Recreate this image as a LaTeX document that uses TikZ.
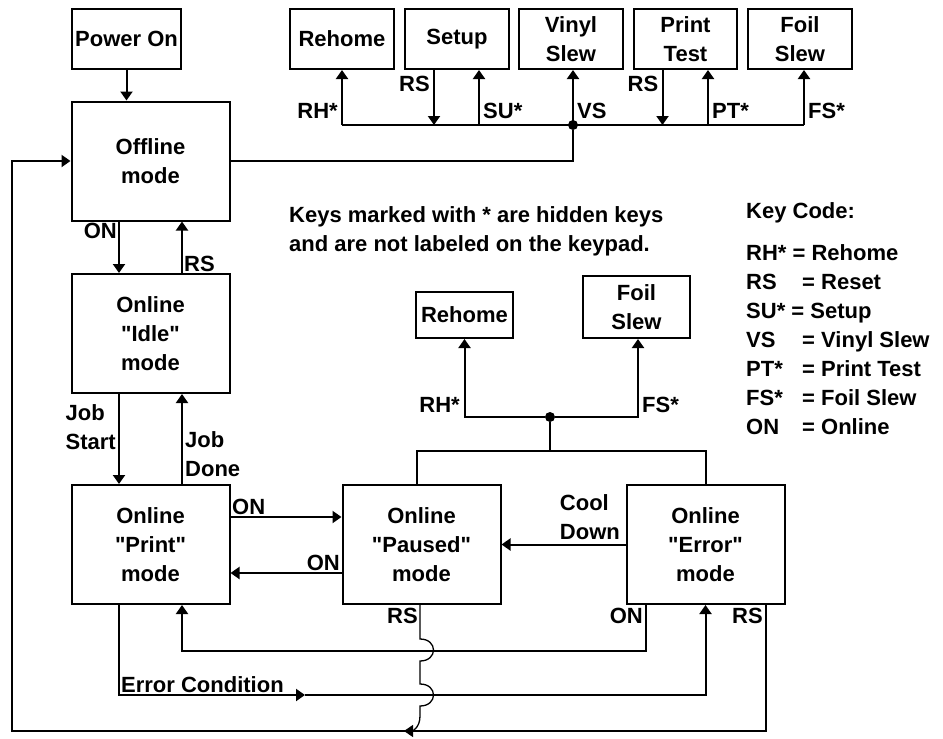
\documentclass[tikz,border=0pt]{standalone}
\usepackage{fontspec}
\setmainfont{Liberation Sans}[Ligatures=TeXOff]
\usetikzlibrary{arrows.meta,calc}
\tikzset{>={Triangle[length=9pt,width=12pt]},mode/.style={draw,line width=2pt,minimum width=158pt,minimum height=119pt,align=center,inner sep=0pt},keybox/.style={draw,line width=2pt,minimum height=60pt,align=center,inner sep=0pt},arr/.style={->,line width=2pt},wire/.style={line width=2pt},lab/.style={inner sep=1pt,align=left},dot/.style={circle,fill,inner sep=0pt,minimum size=10pt}}
\newcommand{\kc}[1]{\makebox[56pt][l]{#1}}

\begin{document}
\begin{tikzpicture}[x=1pt,y=-1pt,every node/.style={font=\fontsize{22}{29}\selectfont\bfseries}]
\useasboundingbox (0,0) rectangle (943,739);
\node[keybox,minimum width=109pt] (pon) at (126.5,39) {Power On};
\node[mode] (off) at (150.5,161) {Offline\\mode};
\node[mode] (idle) at (150.5,333.5) {Online\\"Idle"\\mode};
\node[mode] (prt) at (150.5,544.5) {Online\\"Print"\\mode};
\node[mode] (pau) at (421.5,544.5) {Online\\"Paused"\\mode};
\node[mode] (err) at (705.5,544.5) {Online\\"Error"\\mode};
\node[keybox,minimum width=104pt] (krh) at (342,39) {Rehome};
\node[keybox,minimum width=104pt] (ksu) at (457,39) {Setup};
\node[keybox,minimum width=104pt] (kvs) at (571,39) {Vinyl\\Slew};
\node[keybox,minimum width=103pt] (kpt) at (685.5,39) {Print\\Test};
\node[keybox,minimum width=104pt] (kfs) at (800,39) {Foil\\Slew};
\node[keybox,minimum width=97pt,minimum height=46pt] (mrh) at (464.5,315) {Rehome};
\node[keybox,minimum width=107pt,minimum height=62pt] (mfs) at (636.5,307) {Foil\\Slew};
\node[lab,anchor=north west] (note) at (288,205) {Keys marked with * are hidden keys\\and are not labeled on the keypad.};
\node[lab,anchor=north west] (kcode) at (745,201) {Key Code:\\[13pt]RH* = Rehome\\\kc{RS}= Reset\\SU* = Setup\\\kc{VS}= Vinyl Slew\\\kc{PT*}= Print Test\\\kc{FS*}= Foil Slew\\\kc{ON}= Online};

\foreach \k/\dx/\txt/\side/\gx in {krh/0/RH*/east/-3,ksu/22/SU*/west/3,kvs/2/VS/west/3,kpt/22.5/PT*/west/3,kfs/4/FS*/west/3}{
\draw[arr] ([xshift=\dx pt]\k.south) ++(0,55) coordinate (b\k) -- ([xshift=\dx pt]\k.south);
\node[lab,anchor=\side] (l\k) at ([xshift=\gx pt,yshift=14pt]b\k) {\txt};}
\foreach \k in {ksu,kpt}{
\draw[arr] ([xshift=-23pt]\k.south) -- ++(0,55) coordinate (r\k);
\node[lab,anchor=east] (rl\k) at ([xshift=-3pt,yshift=41pt]r\k) {RS};}
\draw[wire] (bkrh) -- (bkfs);
\node[dot] (d1) at (bkvs) {};
\draw[wire] (off.east) -| (d1);

\coordinate (j2) at (550,451);
\node[dot] (d2) at (550,417) {};
\draw[wire] ([xshift=-4.5pt]pau.north) |- (j2) -| (err.north);
\draw[wire] (j2) -- (d2);
\draw[arr] (d2) -| (mrh.south);
\draw[arr] (d2) -| ([xshift=1.5pt]mfs.south);
\node[lab,anchor=east] (lrh) at (461,405) {RH*};
\node[lab,anchor=west] (lfs) at (641,405) {FS*};

\draw[arr] (pon.south) -- (pon.south |- off.north);
\draw[arr] ([xshift=-31.5pt]off.south) -- ([xshift=-31.5pt]idle.north);
\draw[arr] ([xshift=31.5pt]idle.north) -- ([xshift=31.5pt]off.south);
\draw[arr] ([xshift=-31.5pt]idle.south) -- ([xshift=-31.5pt]prt.north);
\draw[arr] ([xshift=31.5pt]prt.north) -- ([xshift=31.5pt]idle.south);
\node[lab,anchor=north east] (lon1) at (118,222) {ON};
\node[lab,anchor=south west] (lrs1) at (183,273) {RS};
\node[lab,anchor=east] (ljs) at (117,427) {Job\\Start};
\node[lab,anchor=west] (ljd) at (184,454) {Job\\Done};

\draw[arr] ([yshift=27.5pt]prt.east) -- ([yshift=27.5pt]pau.west);
\draw[arr] ([yshift=-28.5pt]pau.west) -- ([yshift=-28.5pt]prt.east);
\draw[arr] (err.west) -- (pau.east);
\node[lab,anchor=south west] (lon2) at (231,516) {ON};
\node[lab,anchor=south east] (lon4) at (341,572) {ON};
\node[lab,anchor=south east] (lcd) at (621,541) {Cool\\Down};

\draw[arr] ([xshift=-59.5pt]err.south) -- ++(0,46) -| ([xshift=31.5pt]prt.south);
\coordinate (ecm) at (305,695);
\draw[arr] ([xshift=-31.5pt]prt.south) |- (ecm);
\draw[arr] (ecm) -| (err.south);
\coordinate (lb) at (12,731);
\draw[arr] ([xshift=60.5pt]err.south) |- (lb) |- (off.west);
\coordinate (rsend) at (404,731);
\draw[arr,line width=1.3pt] ([xshift=-1.5pt]pau.south) -- ++(0,34) .. controls +(18,0) and +(18,0) .. ++(0,22) -- ++(0,23) .. controls +(18,0) and +(18,0) .. ++(0,22) -- ++(0,10) .. controls +(0,12) and +(8,0) .. (rsend);
\node[lab,anchor=north east] (lrs3) at (419,607) {RS};
\node[lab,anchor=north east] (lon3) at (644,607) {ON};
\node[lab,anchor=north east] (lrs4) at (764,607) {RS};
\node[lab,anchor=base west] (lec) at (120,692) {Error Condition};
\end{tikzpicture}
\end{document}
